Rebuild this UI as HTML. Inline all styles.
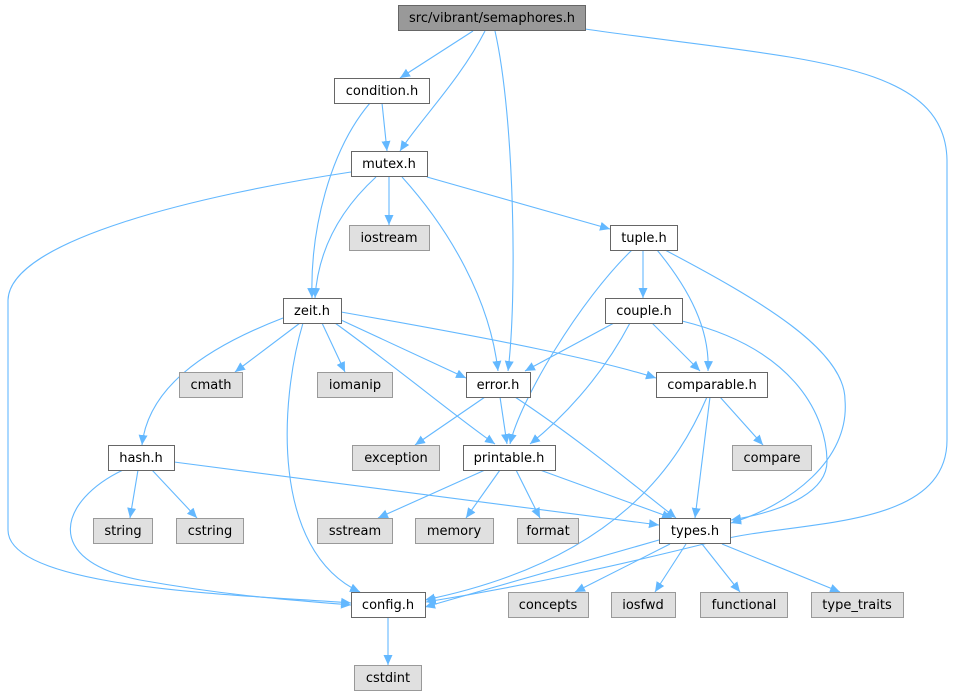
<!DOCTYPE html>
<html><head><meta charset="utf-8"><style>
html,body{margin:0;padding:0;background:#fff;}
svg{display:block;}
text{font-family:"DejaVu Sans","Liberation Sans",sans-serif;font-size:13px;fill:#000;text-anchor:middle;}
.n{fill:#fff;stroke:#666;stroke-width:1;}
.g{fill:#e0e0e0;stroke:#999;stroke-width:1;}
.e{fill:none;stroke:#63b8ff;stroke-width:1.1;}
</style></head><body>
<svg width="956" height="696" viewBox="0 0 956 696">
<defs><marker id="a" viewBox="0 0 10 10" refX="10" refY="5" markerWidth="10" markerHeight="10" markerUnits="userSpaceOnUse" orient="auto"><path d="M0,0.5 L10,5 L0,9.5 z" fill="#63b8ff"/></marker></defs>
<g marker-end="url(#a)">
<path class="e" d="M473,31 L400,78"/>
<path class="e" d="M485,31 C460,80 420,120 400,151"/>
<path class="e" d="M495,31 C515,120 517,300 508,371"/>
<path class="e" d="M585,29 C800,60 945,60 947,160 L947,440 C947,530 800,520 720,540 C620,565 530,585 426,602"/>
<path class="e" d="M382,103 L387,151"/>
<path class="e" d="M370,103 C330,150 310,230 312,298"/>
<path class="e" d="M389,177 L389,225"/>
<path class="e" d="M376,177 C340,210 318,250 315,298"/>
<path class="e" d="M402,177 C450,230 490,300 498,371"/>
<path class="e" d="M427,177 L610,229"/>
<path class="e" d="M351,172 C200,195 10,240 8,300 L8,530 C8,590 250,595 351,603"/>
<path class="e" d="M643,250 L643,298"/>
<path class="e" d="M657,250 C690,290 710,330 708,371"/>
<path class="e" d="M665,250 C760,300 845,350 845,400 C850,460 790,505 731,523"/>
<path class="e" d="M632,250 C580,300 520,400 510,444"/>
<path class="e" d="M614,323 L525,371"/>
<path class="e" d="M652,323 L700,371"/>
<path class="e" d="M630,323 C600,380 560,420 530,444"/>
<path class="e" d="M682,321 C800,350 826,420 827,460 C828,490 790,510 731,520"/>
<path class="e" d="M283,318 C200,350 148,390 142,445"/>
<path class="e" d="M300,323 L235,372"/>
<path class="e" d="M322,323 L345,372"/>
<path class="e" d="M341,320 L466,378"/>
<path class="e" d="M341,312 C500,340 600,360 656,378"/>
<path class="e" d="M335,323 C400,370 460,420 495,444"/>
<path class="e" d="M303,323 C280,400 270,550 360,592"/>
<path class="e" d="M485,397 L415,445"/>
<path class="e" d="M500,397 L507,444"/>
<path class="e" d="M515,397 C580,440 640,490 676,518"/>
<path class="e" d="M720,397 L763,445"/>
<path class="e" d="M710,397 L695,518"/>
<path class="e" d="M707,397 C680,460 620,560 425,600"/>
<path class="e" d="M485,470 L378,518"/>
<path class="e" d="M500,470 L466,518"/>
<path class="e" d="M516,470 L540,518"/>
<path class="e" d="M540,470 L672,518"/>
<path class="e" d="M138,470 L130,518"/>
<path class="e" d="M152,470 L197,518"/>
<path class="e" d="M174,462 L659,525"/>
<path class="e" d="M123,470 C60,500 40,560 140,580 C230,596 290,600 351,605"/>
<path class="e" d="M659,540 L425,607"/>
<path class="e" d="M670,544 L575,592"/>
<path class="e" d="M686,544 L655,592"/>
<path class="e" d="M702,544 L740,592"/>
<path class="e" d="M722,544 L840,592"/>
<path class="e" d="M388,617 L388,665"/>
</g>
<rect x="398.5" y="5.5" width="187" height="25" fill="#999" stroke="#666"/><text x="492" y="22">src/vibrant/semaphores.h</text>
<rect class="n" x="334.5" y="78.5" width="95" height="25"/><text x="382" y="95">condition.h</text>
<rect class="n" x="351.5" y="151.5" width="76" height="25"/><text x="389" y="168">mutex.h</text>
<rect class="g" x="349.5" y="225.5" width="80" height="25"/><text x="389" y="242">iostream</text>
<rect class="n" x="610.5" y="225.5" width="67" height="25"/><text x="644" y="242">tuple.h</text>
<rect class="n" x="283.5" y="298.5" width="58" height="25"/><text x="312" y="315">zeit.h</text>
<rect class="n" x="605.5" y="298.5" width="77" height="25"/><text x="644" y="315">couple.h</text>
<rect class="g" x="179.5" y="372.5" width="63" height="25"/><text x="211" y="389">cmath</text>
<rect class="g" x="317.5" y="372.5" width="75" height="25"/><text x="355" y="389">iomanip</text>
<rect class="n" x="466.5" y="372.5" width="64" height="25"/><text x="498" y="389">error.h</text>
<rect class="n" x="656.5" y="372.5" width="111" height="25"/><text x="712" y="389">comparable.h</text>
<rect class="n" x="108.5" y="445.5" width="66" height="25"/><text x="141" y="462">hash.h</text>
<rect class="g" x="352.5" y="445.5" width="87" height="25"/><text x="396" y="462">exception</text>
<rect class="n" x="463.5" y="445.5" width="92" height="25"/><text x="509" y="462">printable.h</text>
<rect class="g" x="732.5" y="445.5" width="79" height="25"/><text x="772" y="462">compare</text>
<rect class="g" x="93.5" y="518.5" width="59" height="25"/><text x="123" y="535">string</text>
<rect class="g" x="176.5" y="518.5" width="67" height="25"/><text x="210" y="535">cstring</text>
<rect class="g" x="317.5" y="518.5" width="75" height="25"/><text x="355" y="535">sstream</text>
<rect class="g" x="415.5" y="518.5" width="78" height="25"/><text x="454" y="535">memory</text>
<rect class="g" x="517.5" y="518.5" width="61" height="25"/><text x="548" y="535">format</text>
<rect class="n" x="659.5" y="518.5" width="71" height="25"/><text x="695" y="535">types.h</text>
<rect class="n" x="351.5" y="592.5" width="74" height="25"/><text x="388" y="609">config.h</text>
<rect class="g" x="508.5" y="592.5" width="80" height="25"/><text x="548" y="609">concepts</text>
<rect class="g" x="611.5" y="592.5" width="64" height="25"/><text x="643" y="609">iosfwd</text>
<rect class="g" x="700.5" y="592.5" width="87" height="25"/><text x="744" y="609">functional</text>
<rect class="g" x="811.5" y="592.5" width="92" height="25"/><text x="857" y="609">type_traits</text>
<rect class="g" x="354.5" y="665.5" width="67" height="25"/><text x="388" y="682">cstdint</text>
</svg>
</body></html>
